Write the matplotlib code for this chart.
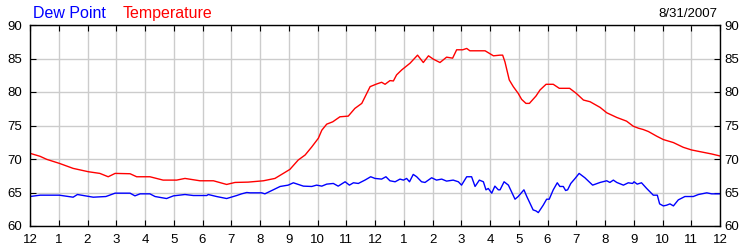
"""Dew point and temperature over one day."""

import matplotlib

matplotlib.use("Agg")
import matplotlib.pyplot as plt

plt.rcParams["font.family"] = ["Liberation Sans", "DejaVu Sans"]

# hour of day (0 = midnight) and readings in deg F
temp_hours = [
    0.0, 0.35, 0.58, 1.02, 1.5, 2.03, 2.43, 2.72, 2.96, 3.48, 3.71, 4.17, 4.63,
    5.1, 5.39, 5.91, 6.38, 6.84, 7.13, 7.59, 8.12, 8.52, 8.81, 9.04, 9.33,
    9.57, 9.8, 10.03, 10.15, 10.32, 10.53, 10.78, 11.07, 11.3, 11.54, 11.83,
    12.06, 12.23, 12.35, 12.52, 12.64, 12.75, 12.93, 13.22, 13.48, 13.68,
    13.86, 14.03, 14.26, 14.49, 14.7, 14.84, 15.05, 15.19, 15.3, 15.83, 16.12,
    16.35, 16.44, 16.52, 16.67, 16.81, 16.98, 17.1, 17.25, 17.37, 17.6, 17.74,
    17.95, 18.2, 18.41, 18.77, 19.0, 19.25, 19.48, 19.83, 20.06, 20.41, 20.75,
    20.98, 21.16, 21.33, 21.51, 21.8, 22.03, 22.38, 22.72, 23.01, 23.3, 23.71,
    24.0,
]
temperature = [
    70.85, 70.4, 69.95, 69.35, 68.6, 68.1, 67.85, 67.35, 67.85, 67.8, 67.35,
    67.35, 66.85, 66.85, 67.1, 66.75, 66.75, 66.2, 66.5, 66.55, 66.75, 67.1,
    67.85, 68.45, 69.85, 70.6, 71.8, 73.1, 74.3, 75.2, 75.55, 76.3, 76.4,
    77.55, 78.3, 80.8, 81.2, 81.45, 81.15, 81.7, 81.65, 82.55, 83.3, 84.3,
    85.5, 84.4, 85.4, 84.9, 84.4, 85.2, 85.05, 86.3, 86.3, 86.5, 86.15, 86.15,
    85.4, 85.5, 85.5, 84.5, 81.8, 80.8, 79.8, 78.9, 78.3, 78.3, 79.4, 80.3,
    81.15, 81.15, 80.55, 80.55, 79.8, 78.8, 78.55, 77.7, 76.9, 76.2, 75.65,
    74.9, 74.6, 74.4, 74.1, 73.4, 72.9, 72.45, 71.75, 71.35, 71.1, 70.75,
    70.45,
]

dew_hours = [
    0.0, 0.35, 1.02, 1.5, 1.65, 2.2, 2.64, 2.96, 3.48, 3.65, 3.83, 4.17, 4.35,
    4.75, 4.99, 5.39, 5.68, 6.15, 6.2, 6.49, 6.84, 7.19, 7.36, 7.54, 7.65,
    8.06, 8.17, 8.46, 8.7, 8.98, 9.16, 9.51, 9.8, 9.97, 10.15, 10.32, 10.55,
    10.72, 10.96, 11.11, 11.25, 11.42, 11.65, 11.85, 12.0, 12.23, 12.38,
    12.52, 12.7, 12.87, 12.99, 13.1, 13.2, 13.33, 13.45, 13.62, 13.74, 13.97,
    14.14, 14.32, 14.49, 14.72, 14.9, 15.01, 15.19, 15.36, 15.48, 15.63,
    15.77, 15.86, 15.94, 16.06, 16.17, 16.29, 16.35, 16.49, 16.64, 16.87,
    16.98, 17.18, 17.28, 17.5, 17.6, 17.68, 17.85, 17.97, 18.06, 18.2, 18.34,
    18.43, 18.55, 18.63, 18.7, 18.81, 18.96, 19.1, 19.3, 19.57, 19.83, 20.06,
    20.17, 20.29, 20.41, 20.64, 20.81, 20.96, 21.01, 21.12, 21.27, 21.45,
    21.68, 21.82, 21.9, 22.03, 22.14, 22.26, 22.38, 22.55, 22.78, 23.07,
    23.25, 23.54, 23.71, 24.0,
]
dew_point = [
    64.4, 64.6, 64.6, 64.3, 64.7, 64.3, 64.4, 64.9, 64.9, 64.5, 64.8, 64.8,
    64.4, 64.1, 64.5, 64.7, 64.55, 64.55, 64.7, 64.4, 64.1, 64.55, 64.8, 65.0,
    64.95, 64.95, 64.8, 65.4, 65.9, 66.1, 66.45, 65.95, 65.9, 66.1, 65.95,
    66.25, 66.35, 65.95, 66.6, 66.1, 66.45, 66.35, 66.85, 67.35, 67.1, 67.0,
    67.35, 66.75, 66.6, 67.0, 66.85, 67.1, 66.6, 67.7, 67.35, 66.6, 66.5,
    67.2, 66.85, 67.0, 66.7, 66.85, 66.6, 66.1, 67.35, 67.35, 65.9, 66.85,
    66.6, 65.4, 65.6, 64.9, 65.95, 65.4, 65.4, 66.6, 66.1, 64.0, 64.4, 65.4,
    64.4, 62.4, 62.25, 62.0, 63.1, 64.0, 64.0, 65.4, 66.45, 65.9, 65.9, 65.3,
    65.4, 66.35, 67.1, 67.85, 67.2, 66.1, 66.5, 66.75, 66.5, 66.85, 66.5,
    66.1, 66.45, 66.35, 66.6, 66.25, 66.45, 65.6, 64.6, 64.6, 63.3, 63.0,
    63.1, 63.3, 63.0, 63.9, 64.4, 64.4, 64.7, 64.95, 64.8, 64.8,
]

hour_labels = ["12"] + [str(h) for h in range(1, 12)] + ["12"] + [str(h) for h in range(1, 12)] + ["12"]
y_ticks = [60, 65, 70, 75, 80, 85, 90]
date_label = "8/31/2007"

fig = plt.figure(figsize=(7.5, 2.5), dpi=100)
ax = fig.add_axes([30 / 750, 24 / 250, 690 / 750, 201 / 250])

ax.plot(temp_hours, temperature, color="#ff0000", linewidth=1)
ax.plot(dew_hours, dew_point, color="#0000ff", linewidth=1)

ax.set_xlim(0, 24)
ax.set_ylim(60, 90)
ax.set_xticks(range(25))
ax.set_xticklabels(hour_labels)
ax.set_yticks(y_ticks)
ax.grid(True, color="#cccccc", linewidth=1)
ax.set_axisbelow(True)

for spine in ax.spines.values():
    spine.set_linewidth(1)
    spine.set_color("black")

ax.tick_params(axis="x", bottom=True, top=True, direction="in",
               length=4, labelsize=9.5, pad=5.5)
ax.tick_params(axis="y", left=True, right=True, direction="in",
               length=4, labelsize=9.5, pad=5.5)

# right-hand labels sit closer to the frame than the left ones
right = ax.secondary_yaxis("right")
right.set_yticks(y_ticks)
right.tick_params(direction="in", length=0, labelsize=9.5, pad=3)
right.spines["right"].set_visible(False)

fig.text(33 / 750, 1 - 17.5 / 250, "Dew Point", color="#0000ff", fontsize=11.5, va="baseline")
fig.text(123 / 750, 1 - 17.5 / 250, "Temperature", color="#ff0000", fontsize=11.5, va="baseline")
fig.text(717 / 750, 1 - 17 / 250, date_label, color="black", fontsize=9.5, ha="right", va="baseline")

fig.savefig("out.png", dpi=100)
plt.close(fig)
